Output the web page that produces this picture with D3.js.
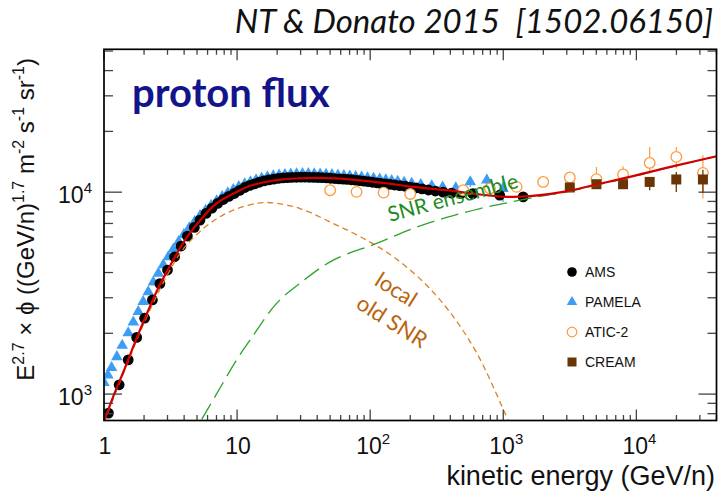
<!DOCTYPE html>
<html>
<head>
<meta charset="utf-8">
<script src="https://cdn.jsdelivr.net/npm/d3@7"></script>
<style>
  html, body { margin: 0; padding: 0; background: #fff; }
  svg { display: block; }
</style>
</head>
<body>
<svg id="chart" width="718" height="494"></svg>
<script>
// ---- data: E^2.7 x proton flux vs kinetic energy (GeV/n) ----
const amsE = [1.08,1.30,1.52,1.76,2.02,2.31,2.63,3.00,3.39,3.79,4.23,4.77,5.26,5.84,6.47,7.14,7.87,8.66,9.52,10.45,
  11.44,12.46,13.51,14.67,15.94,17.32,18.81,20.4,22.1,23.9,25.8,27.9,30.1,32.4,34.9,37.6,40.5,43.6,46.9,50.4,
  54.2,58.3,62.7,67.3,72.4,77.8,83.6,89.8,96.6,104,112,120,130,141,153,167,183,201,221,245,274,309,353,408,481,590,940,1410];
const amsF = [805,1112,1478,1909,2376,2925,3525,4115,4787,5410,6063,6692,7271,7850,8330,8800,9200,9530,9850,10200,
  10550,10800,11000,11200,11380,11500,11600,11700,11760,11800,11830,11850,11860,11860,11850,11840,11820,11800,11760,11720,
  11680,11640,11600,11560,11520,11460,11400,11340,11270,11200,11130,11060,10990,10920,10850,10780,10700,10600,10500,10380,
  10250,10130,10000,9900,9850,9820,9660,9480];

const pamE = [1.00,1.07,1.14,1.25,1.37,1.52,1.66,1.81,1.97,2.15,2.35,2.56,2.79,3.04,3.32,3.64,3.98,4.37,4.80,5.27,
  5.80,6.38,7.02,7.73,8.51,9.37,10.3,11.4,12.6,13.9,15.3,16.9,18.7,20.7,22.9,25.3,28.0,31.0,34.3,38.0,
  42.1,46.6,51.6,57.2,63.4,70.2,77.8,86.2,95.5,106,118,131,145,161,180,205,240,290,350,440,565,752,995];
const pamF = [1140,1240,1350,1530,1740,2010,2270,2560,2870,3210,3580,3960,4360,4780,5220,5690,6160,6650,7150,7640,
  8130,8600,9060,9500,9910,10290,10640,10970,11250,11500,11710,11890,12030,12140,12220,12280,12320,12340,12340,12320,
  12290,12250,12200,12140,12080,12010,11940,11860,11780,11690,11600,11500,11400,11300,11180,11050,10900,10750,10600,10500,
  11250,11460,10400];
// PAMELA uncertainties at the highest energies
const pamBarE  = [440, 565, 752, 995];
const pamBarLo = [10050, 10600, 10700, 8950];
const pamBarHi = [10950, 11900, 12250, 12140];

const aticE  = [50, 79, 126, 200, 500, 794, 1259, 1995, 3162, 5012, 7943, 12589, 19953, 31623];
const aticF  = [10230, 10035, 9950, 9800, 10230, 10430, 10620, 11240, 11820, 11600, 12230, 13960, 14950, 12460];
const aticLo = [9950, 9750, 9650, 9500, 9900, 10050, 10200, 10800, 11300, 11040, 11240, 12370, 13090, 9310];
const aticHi = [10500, 10320, 10250, 10100, 10560, 10810, 11040, 11700, 12350, 13340, 13450, 16750, 16750, 15240];

const creamE  = [3162, 5012, 7943, 12589, 19953, 31623];
const creamF  = [10550, 10950, 10950, 11240, 11560, 11560];
const creamLo = [10250, 10550, 10400, 10230, 10030, 9900];
const creamHi = [10850, 11350, 11500, 11900, 12600, 12900];

// model curves: total, local old SNR, SNR ensemble
const totE = [1.0,1.2,1.4,1.66,2.0,2.5,3.0,4.0,5.0,7.0,10,12.5,16,22,30,40,55,70,100,125,210,375,670,1060,1590,2830,5020,8910,15900,28000,40000];
const totF = [730,1010,1290,1720,2320,3250,4100,5700,6950,8800,10050,10750,11200,11560,11720,11770,11700,11560,11300,11120,10620,10230,9740,9480,9550,10030,10920,11900,13090,14270,15060];

const locE = [1.0,1.5,2.0,3.0,4.0,6.24,9.37,14.8,20,29.7,52.8,94,149,251,398,631,1000,1300];
const locF = [725,1420,2250,3900,5300,7000,8150,8850,8800,8300,6995,5790,4790,3590,2540,1600,840,560];

const ensE = [5.42,7,9.93,12.5,19.8,29.7,52.8,112,210,375,670,1200,2100,2830,5020,8910,15900,28000,40000];
const ensF = [750,1000,1478,1850,2814,3540,4610,5577,6610,7500,8300,9000,9650,9950,10850,11850,13050,14250,15050];

// axis tick labels
const xTickVals = [1, 10, 100, 1000, 10000];
const xTickBase = ["1", "10", "10", "10", "10"];
const xTickExp  = ["", "", "2", "3", "4"];
const yTickVals = [1000, 10000];
const yTickBase = ["10", "10"];
const yTickExp  = ["3", "4"];

const legendNames = ["AMS", "PAMELA", "ATIC-2", "CREAM"];

// ---- drawing ----
const svg = d3.select("#chart");
const F = { left: 104, right: 716.5, top: 49.3, bottom: 420.5 };
const x = d3.scaleLog().domain([1, 4e4]).range([F.left, F.right]);
const y = d3.scaleLog().domain([740, 5.1e4]).range([F.bottom, F.top]);

const col = {
  ams: "#000000", pam: "#3c9df5", atic: "#ff9a3c", cream: "#6a3505",
  tot: "#d10000", loc: "#de8024", ens: "#2aa52a",
  ensText: "#1f8c1f", locText: "#b9640f", title: "#14148a"
};
const sans = "'Liberation Sans', Arial, Helvetica, sans-serif";
const cal = "Lato, 'Open Sans', sans-serif";

svg.append("defs").append("clipPath").attr("id", "plotclip")
  .append("rect").attr("x", F.left).attr("y", F.top)
  .attr("width", F.right - F.left).attr("height", F.bottom - F.top);

const plot = svg.append("g").attr("clip-path", "url(#plotclip)");

// PAMELA
const pamPts = pamE.map((e, i) => [e, pamF[i]]);
plot.append("g").selectAll("line").data(pamBarE).join("line")
  .attr("x1", d => x(d)).attr("x2", d => x(d))
  .attr("y1", (d, i) => y(pamBarLo[i])).attr("y2", (d, i) => y(pamBarHi[i]))
  .attr("stroke", col.pam).attr("stroke-width", 1.2);
const tri = d3.symbol().type(d3.symbolTriangle).size(58);
plot.append("g").selectAll("path").data(pamPts).join("path")
  .attr("d", tri).attr("transform", d => `translate(${x(d[0])},${y(d[1])})`)
  .attr("fill", col.pam);

// AMS
plot.append("g").selectAll("circle").data(amsE.map((e, i) => [e, amsF[i]])).join("circle")
  .attr("cx", d => x(d[0])).attr("cy", d => y(d[1])).attr("r", 5.4).attr("fill", col.ams);

// ATIC-2
plot.append("g").selectAll("line").data(aticE).join("line")
  .attr("x1", d => x(d)).attr("x2", d => x(d))
  .attr("y1", (d, i) => y(aticLo[i])).attr("y2", (d, i) => y(aticHi[i]))
  .attr("stroke", col.atic).attr("stroke-width", 1.2);
plot.append("g").selectAll("circle").data(aticE.map((e, i) => [e, aticF[i]])).join("circle")
  .attr("cx", d => x(d[0])).attr("cy", d => y(d[1])).attr("r", 5.3)
  .attr("fill", "#fff").attr("stroke", col.atic).attr("stroke-width", 1.3);

// CREAM
plot.append("g").selectAll("line").data(creamE).join("line")
  .attr("x1", d => x(d)).attr("x2", d => x(d))
  .attr("y1", (d, i) => y(creamLo[i])).attr("y2", (d, i) => y(creamHi[i]))
  .attr("stroke", col.cream).attr("stroke-width", 1.3);
plot.append("g").selectAll("rect").data(creamE.map((e, i) => [e, creamF[i]])).join("rect")
  .attr("x", d => x(d[0]) - 5).attr("y", d => y(d[1]) - 5)
  .attr("width", 10).attr("height", 10).attr("fill", col.cream);

// model curves
const line = d3.line().x(d => x(d[0])).y(d => y(d[1])).curve(d3.curveCatmullRom.alpha(0.5));
plot.append("path").datum(locE.map((e, i) => [e, locF[i]])).attr("d", line)
  .attr("fill", "none").attr("stroke", col.loc).attr("stroke-width", 1.3).attr("stroke-dasharray", "6,4");
plot.append("path").datum(ensE.map((e, i) => [e, ensF[i]])).attr("d", line)
  .attr("fill", "none").attr("stroke", col.ens).attr("stroke-width", 1.3).attr("stroke-dasharray", "18,7");
plot.append("path").datum(totE.map((e, i) => [e, totF[i]])).attr("d", line)
  .attr("fill", "none").attr("stroke", col.tot).attr("stroke-width", 2.2);

// ---- frame and ticks ----
const axes = svg.append("g");
const isMajor = v => Math.abs(Math.log10(v) - Math.round(Math.log10(v))) < 1e-9;
const tickCol = "#444";
x.ticks().forEach(v => {
  const px = x(v), L = isMajor(v) ? 11 : 5.5;
  axes.append("line").attr("x1", px).attr("x2", px).attr("y1", F.bottom).attr("y2", F.bottom - L)
    .attr("stroke", tickCol).attr("stroke-width", 1.3);
  axes.append("line").attr("x1", px).attr("x2", px).attr("y1", F.top).attr("y2", F.top + L)
    .attr("stroke", tickCol).attr("stroke-width", 1.3);
});
y.ticks().forEach(v => {
  const py = y(v), L = isMajor(v) ? 18 : 9;
  axes.append("line").attr("x1", F.left).attr("x2", F.left + L).attr("y1", py).attr("y2", py)
    .attr("stroke", tickCol).attr("stroke-width", 1.3);
  axes.append("line").attr("x1", F.right).attr("x2", F.right - L).attr("y1", py).attr("y2", py)
    .attr("stroke", tickCol).attr("stroke-width", 1.3);
});
axes.append("rect").attr("x", F.left).attr("y", F.top)
  .attr("width", F.right - F.left).attr("height", F.bottom - F.top)
  .attr("fill", "none").attr("stroke", "#000").attr("stroke-width", 1.7);

// tick labels
xTickVals.forEach((v, i) => {
  const t = svg.append("text").attr("x", x(v) + (xTickExp[i] ? 3 : 1)).attr("y", 454)
    .attr("text-anchor", "middle").attr("font-family", sans).attr("font-size", 23).attr("fill", "#111");
  t.append("tspan").text(xTickBase[i]);
  if (xTickExp[i]) t.append("tspan").attr("dy", -10).attr("font-size", 15).text(xTickExp[i]);
});
yTickVals.forEach((v, i) => {
  const t = svg.append("text").attr("x", 92).attr("y", y(v) + 11)
    .attr("text-anchor", "end").attr("font-family", sans).attr("font-size", 23).attr("fill", "#111");
  t.append("tspan").text(yTickBase[i]);
  t.append("tspan").attr("dy", -10).attr("font-size", 15).text(yTickExp[i]);
});

// axis titles
svg.append("text").attr("x", 715).attr("y", 485).attr("text-anchor", "end")
  .attr("font-family", sans).attr("font-size", 27).attr("fill", "#111")
  .text("kinetic energy (GeV/n)");

const yt = svg.append("text").attr("transform", "translate(34,58) rotate(-90)")
  .attr("text-anchor", "end").attr("font-family", sans).attr("font-size", 24).attr("fill", "#111");
const ytParts = [
  ["E", 0], ["2.7", 1], [" \u00d7 \u03d5 ((GeV/n)", 0], ["1.7", 1], [" m", 0], ["-2", 1],
  [" s", 0], ["-1", 1], [" sr", 0], ["-1", 1], [")", 0]
];
let raised = false;
ytParts.forEach(([s, sup]) => {
  const ts = yt.append("tspan").text(s);
  if (sup && !raised) { ts.attr("dy", -10).attr("font-size", 16); raised = true; }
  else if (sup) { ts.attr("font-size", 16); }
  else if (raised) { ts.attr("dy", 10); raised = false; }
});

// title and annotations
svg.append("text").attr("x", 713).attr("y", 33).attr("text-anchor", "end")
  .attr("font-family", cal).attr("font-style", "italic").attr("font-size", 33).attr("fill", "#111")
  .attr("xml:space", "preserve").text("NT & Donato 2015  [1502.06150]");

svg.append("text").attr("x", 132).attr("y", 107)
  .attr("font-family", cal).attr("font-weight", "bold").attr("font-size", 40).attr("fill", col.title)
  .text("proton flux");

svg.append("text").attr("transform", "translate(390,222) rotate(-15)")
  .attr("font-family", cal).attr("font-size", 21).attr("fill", col.ensText).text("SNR ensemble");
svg.append("text").attr("transform", "translate(392,296) rotate(32)").attr("text-anchor", "middle")
  .attr("font-family", cal).attr("font-size", 22).attr("fill", col.locText).text("local");
svg.append("text").attr("transform", "translate(388,328) rotate(32)").attr("text-anchor", "middle")
  .attr("font-family", cal).attr("font-size", 22).attr("fill", col.locText).text("old SNR");

// legend
const lg = svg.append("g");
const lgY = [272, 302, 332, 362];
lg.append("circle").attr("cx", 572).attr("cy", lgY[0]).attr("r", 4.8).attr("fill", col.ams);
lg.append("path").attr("d", d3.symbol().type(d3.symbolTriangle).size(48)())
  .attr("transform", `translate(572,${lgY[1]})`).attr("fill", col.pam);
lg.append("circle").attr("cx", 572).attr("cy", lgY[2]).attr("r", 4.8)
  .attr("fill", "#fff").attr("stroke", col.atic).attr("stroke-width", 1.2);
lg.append("rect").attr("x", 567.5).attr("y", lgY[3] - 4.5).attr("width", 9).attr("height", 9).attr("fill", col.cream);
legendNames.forEach((n, i) => {
  lg.append("text").attr("x", 585).attr("y", lgY[i] + 5).attr("font-family", sans)
    .attr("font-size", 14).attr("fill", "#111").text(n);
});
</script>
</body>
</html>
